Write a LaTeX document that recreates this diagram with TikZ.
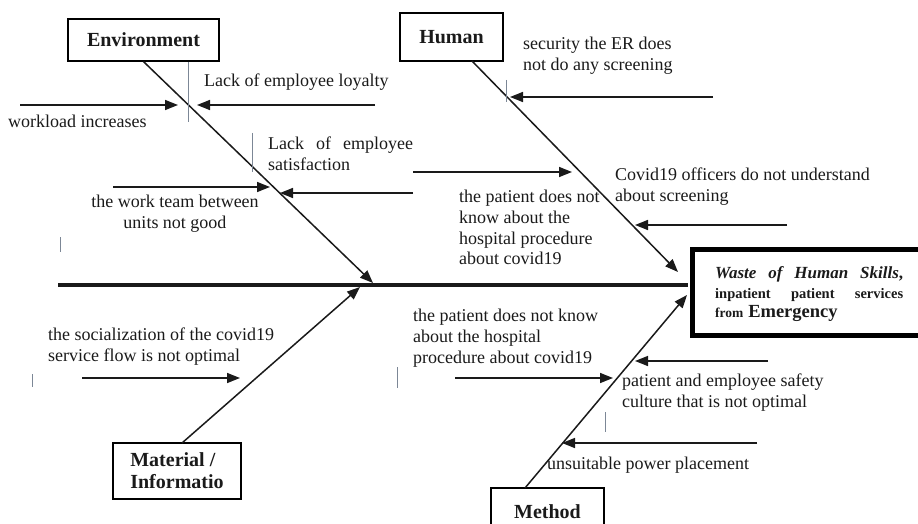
\documentclass[tikz,border=0pt]{standalone}
\usepackage{fontspec}
\setmainfont{Liberation Serif}
\usetikzlibrary{arrows.meta}

\definecolor{Ink}{HTML}{1A1A1A}
\definecolor{Stray}{HTML}{7C8796}

\tikzset{
  cause/.style={font=\fontsize{18}{20.7}\selectfont, inner sep=0pt, anchor=north west, align=left, text=Ink},
  catbox/.style={draw, line width=1.2pt, font=\bfseries\fontsize{20}{22}\selectfont, inner sep=0pt, text=Ink},
  bone/.style={line width=1.5pt, color=Ink, -{Triangle[length=13pt,width=10pt]}},
  twig/.style={line width=1.5pt, color=Ink, -{Triangle[length=13pt,width=10pt]}}
}

\begin{document}
\begin{tikzpicture}[x=1pt, y=-1pt]
 \useasboundingbox (0,0) rectangle (918,524);
 \clip (0,0) rectangle (918,524);

  %%%%%%%%%% Points pour travailler %%%%%%%%%%

 \coordinate (tail) at (58,285);
 \coordinate (head) at (688,285);

 \coordinate (envtip) at (373,283);
 \coordinate (humroot) at (472,61);
 \coordinate (humtip) at (678,272);
 \coordinate (matroot) at (182,443);
 \coordinate (mattip) at (360,287);
 \coordinate (methroot) at (525,488);
 \coordinate (methtip) at (687,295);

 \coordinate (e0) at (20,105);   \coordinate (e1) at (178,105);
 \coordinate (e2) at (375,105);  \coordinate (e3) at (197,105);
 \coordinate (e4) at (113,187);  \coordinate (e5) at (270,187);
 \coordinate (e6) at (413,193);  \coordinate (e7) at (280,193);
 \coordinate (h0) at (713,97);   \coordinate (h1) at (510,97);
 \coordinate (h2) at (413,172);  \coordinate (h3) at (572,172);
 \coordinate (h4) at (787,225);  \coordinate (h5) at (635,225);
 \coordinate (m0) at (82,378);   \coordinate (m1) at (240,378);
 \coordinate (t0) at (455,378);  \coordinate (t1) at (613,378);
 \coordinate (t2) at (768,361);  \coordinate (t3) at (635,361);
 \coordinate (t4) at (757,443);  \coordinate (t5) at (562,443);

 %%%%%%%%%% Boxes %%%%%%%%%%
 \node[catbox, minimum width=151pt, minimum height=42pt] (envbox) at (143.5,40) {Environment};
 \node[catbox, minimum width=103pt, minimum height=48pt] (humbox) at (451.5,37) {Human};
 \node[catbox, minimum width=128pt, minimum height=56pt, align=left] (matbox) at (177,471) {Material /\\Informatio};
 \node[catbox, minimum width=113pt, minimum height=48pt] (methbox) at (547.5,512) {Method};

 \node[draw, line width=5pt, outer sep=0pt, anchor=north west, minimum width=240pt, minimum height=86pt] (effect) at (692.5,249.5) {};
 \node[anchor=north west, inner sep=0pt, text width=188pt, align=left, text=Ink,
       font=\fontsize{14.5}{19.5}\selectfont\bfseries] (efftext) at (715,266.5)
   {\makebox[188pt][s]{\fontsize{17}{19.5}\selectfont\itshape Waste\hfill of\hfill Human\hfill Skills\upshape,}\\
    \makebox[188pt][s]{inpatient\hfill patient\hfill services}\\
    {\fontsize{13.5}{19.5}\selectfont from} {\fontsize{18.5}{19.5}\selectfont Emergency}};

 %%%%%%%%%% Spine and bones %%%%%%%%%%
 \draw [line width=4.5pt, color=Ink] (tail) -- (head) ;
 \draw [bone] (envbox.south) -- (envtip) ;
 \draw [bone] (humroot) -- (humtip) ;
 \draw [bone] (matroot) -- (mattip) ;
 \draw [bone] (methroot) -- (methtip) ;

 %%%%%%%%%% Causes %%%%%%%%%%
 \draw [twig] (e0) -- (e1) ;
 \draw [twig] (e2) -- (e3) ;
 \draw [twig] (e4) -- (e5) ;
 \draw [twig] (e6) -- (e7) ;
 \draw [twig] (h0) -- (h1) ;
 \draw [twig] (h2) -- (h3) ;
 \draw [twig] (h4) -- (h5) ;
 \draw [twig] (m0) -- (m1) ;
 \draw [twig] (t0) -- (t1) ;
 \draw [twig] (t2) -- (t3) ;
 \draw [twig] (t4) -- (t5) ;

 \node[cause] (workload) at (8,115) {workload increases};
 \node[cause] (loyalty) at (204,74) {Lack of employee loyalty};
 \node[cause] (satisf) at (268,137) {\makebox[145pt][s]{Lack of employee}\\satisfaction};
 \node[cause, anchor=north, align=center] (teamwork) at (175,195) {the work team between\\units not good};
 \node[cause] (security) at (523,37) {security the ER does\\not do any screening};
 \node[cause] (knowH) at (459,190) {the patient does not\\know about the\\hospital procedure\\about covid19};
 \node[cause] (officers) at (615,168) {Covid19 officers do not understand\\about screening};
 \node[cause] (socialize) at (48,328) {the socialization of the covid19\\service flow is not optimal};
 \node[cause] (knowM) at (413,309) {the patient does not know\\about the hospital\\procedure about covid19};
 \node[cause] (safety) at (622,374) {patient and employee safety\\culture that is not optimal};
 \node[cause] (power) at (547,457) {unsuitable power placement};

 %%%%%%%%%% Stray marks %%%%%%%%%%
 \foreach \x/\ya/\yb in {188/62/122, 252/133/172, 506/80/102, 60/237/252, 32/374/387, 397/367/388, 605/412/432}
 {
   \draw [line width=0.7pt, color=Stray] (\x,\ya) -- (\x,\yb) ;
 }

\end{tikzpicture}
\end{document}
